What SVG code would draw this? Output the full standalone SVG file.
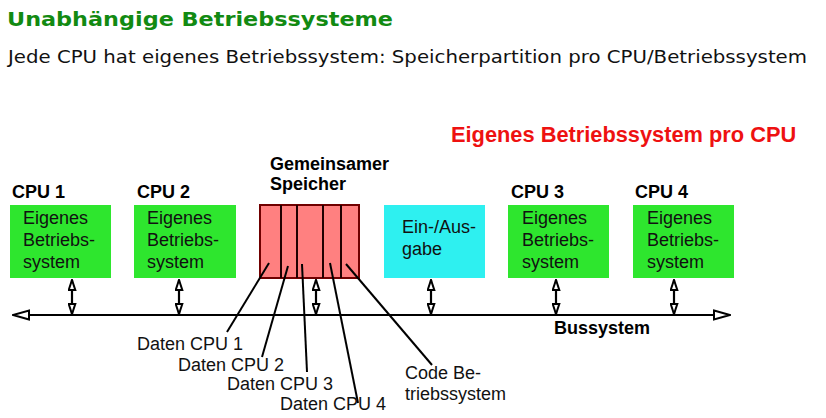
<svg xmlns="http://www.w3.org/2000/svg" width="826" height="418" viewBox="0 0 826 418">
<style>
.t{font-family:"DejaVu Sans",Verdana,sans-serif}
.h{font-family:"Liberation Sans",Arial,sans-serif}
.b{font-weight:bold;font-size:18px;fill:#000}
.n{font-size:18px;fill:#111}
.os{fill:#2ee62e}
.ln{stroke:#000;stroke-width:2;fill:none}
.da{stroke:#000;stroke-width:2.2;fill:none}
</style>
<defs>
<marker id="bh" viewBox="0 0 18 12" refX="17" refY="6" markerWidth="18" markerHeight="12" markerUnits="userSpaceOnUse" orient="auto-start-reverse">
<path d="M1,1.5 L17,6 L1,10.5 Z" fill="#fff" stroke="#000" stroke-width="2"/>
</marker>
<marker id="sh" viewBox="0 0 12 9" refX="11" refY="4.5" markerWidth="12" markerHeight="9" markerUnits="userSpaceOnUse" orient="auto-start-reverse">
<path d="M1,1.2 L11,4.5 L1,7.8 Z" fill="#fff" stroke="#000" stroke-width="2"/>
</marker>
</defs>
<rect width="826" height="418" fill="#fff"/>
<text class="t" x="7" y="26" font-size="20" font-weight="bold" fill="#128a12" textLength="386" lengthAdjust="spacingAndGlyphs">Unabhängige Betriebssysteme</text>
<text class="t" x="8" y="63" font-size="17" fill="#111" textLength="799" lengthAdjust="spacingAndGlyphs">Jede CPU hat eigenes Betriebssystem: Speicherpartition pro CPU/Betriebssystem</text>
<text class="h" x="451" y="142" font-size="21.8" font-weight="bold" fill="#ee1111">Eigenes Betriebssystem pro CPU</text>

<g id="connectors">
<line class="ln" x1="13" y1="315" x2="730" y2="315" marker-start="url(#bh)" marker-end="url(#bh)"/>
<line class="da" x1="72" y1="280" x2="72" y2="314" marker-start="url(#sh)" marker-end="url(#sh)"/>
<line class="da" x1="179" y1="280" x2="179" y2="314" marker-start="url(#sh)" marker-end="url(#sh)"/>
<line class="da" x1="316" y1="280" x2="316" y2="314" marker-start="url(#sh)" marker-end="url(#sh)"/>
<line class="da" x1="431" y1="280" x2="431" y2="314" marker-start="url(#sh)" marker-end="url(#sh)"/>
<line class="da" x1="556" y1="280" x2="556" y2="314" marker-start="url(#sh)" marker-end="url(#sh)"/>
<line class="da" x1="674" y1="280" x2="674" y2="314" marker-start="url(#sh)" marker-end="url(#sh)"/>
</g>

<g id="cpu1">
<text class="h b" x="12" y="198">CPU 1</text>
<rect class="os" x="10" y="205" width="101" height="73"/>
<text class="h n" x="23" y="224">Eigenes</text>
<text class="h n" x="23" y="246">Betriebs-</text>
<text class="h n" x="23" y="268">system</text>
</g>
<g id="cpu2">
<text class="h b" x="137" y="198">CPU 2</text>
<rect class="os" x="134" y="205" width="102" height="73"/>
<text class="h n" x="147" y="224">Eigenes</text>
<text class="h n" x="147" y="246">Betriebs-</text>
<text class="h n" x="147" y="268">system</text>
</g>
<g id="speicher">
<text class="h b" x="270" y="170">Gemeinsamer</text>
<text class="h b" x="270" y="190">Speicher</text>
<rect x="260" y="205" width="99" height="73" fill="#ff8080" stroke="#700000" stroke-width="2"/>
<g stroke="#200000" stroke-width="2">
<line x1="281" y1="205" x2="281" y2="278"/>
<line x1="297" y1="205" x2="297" y2="278"/>
<line x1="323" y1="205" x2="323" y2="278"/>
<line x1="341" y1="205" x2="341" y2="278"/>
</g>
</g>
<g id="io">
<rect x="384" y="205" width="101" height="73" fill="#2ef0f0"/>
<text class="h n" x="402" y="233">Ein-/Aus-</text>
<text class="h n" x="402" y="255">gabe</text>
</g>
<g id="cpu3">
<text class="h b" x="511" y="198">CPU 3</text>
<rect class="os" x="508" y="205" width="101" height="73"/>
<text class="h n" x="522" y="224">Eigenes</text>
<text class="h n" x="522" y="246">Betriebs-</text>
<text class="h n" x="522" y="268">system</text>
</g>
<g id="cpu4">
<text class="h b" x="635" y="198">CPU 4</text>
<rect class="os" x="633" y="205" width="101" height="73"/>
<text class="h n" x="647" y="224">Eigenes</text>
<text class="h n" x="647" y="246">Betriebs-</text>
<text class="h n" x="647" y="268">system</text>
</g>
<g id="bus">
<text class="h b" x="554" y="334">Bussystem</text>
</g>
<g id="labels">
<g class="ln">
<line x1="269" y1="263" x2="227" y2="332"/>
<line x1="288" y1="266" x2="262" y2="357"/>
<line x1="302" y1="264" x2="307" y2="372"/>
<line x1="330" y1="263" x2="358" y2="403"/>
<line x1="346" y1="264" x2="432" y2="365"/>
</g>
<text class="h n" x="137" y="350">Daten CPU 1</text>
<text class="h n" x="178" y="371">Daten CPU 2</text>
<text class="h n" x="227" y="390">Daten CPU 3</text>
<text class="h n" x="280" y="410">Daten CPU 4</text>
<text class="h n" x="405" y="379">Code Be-</text>
<text class="h n" x="405" y="400">triebssystem</text>
</g>
</svg>
